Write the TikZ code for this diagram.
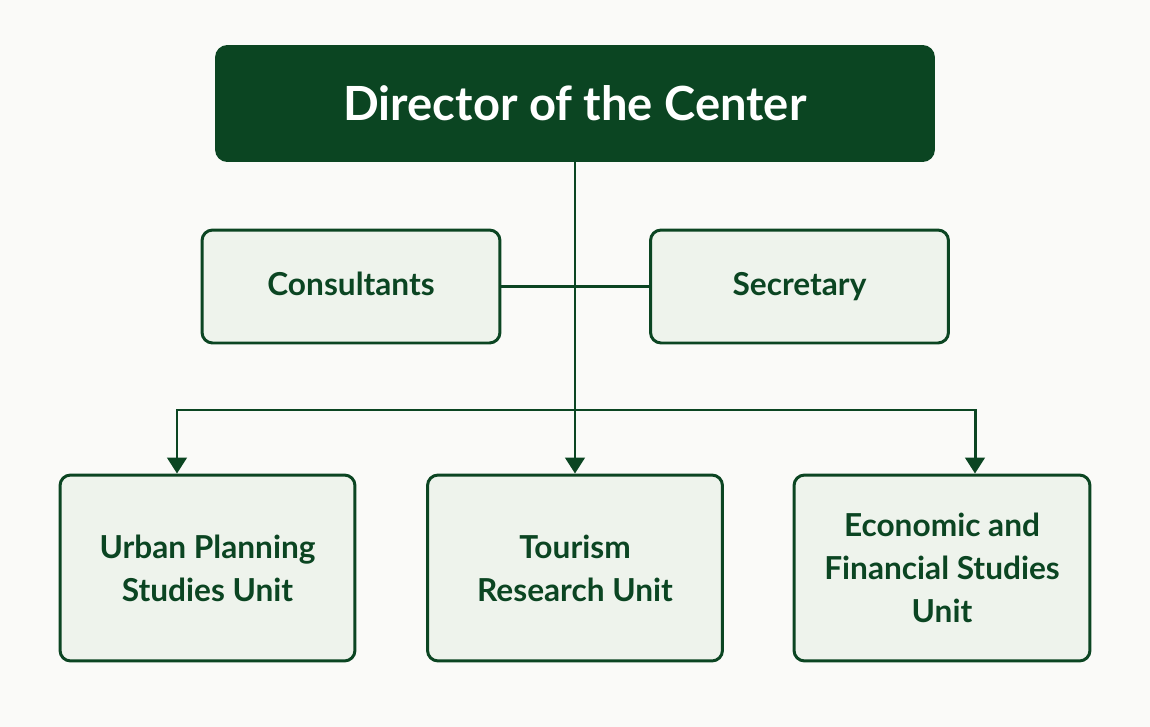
\documentclass[tikz,border=0pt]{standalone}
\usepackage{fontspec}
\setmainfont{Lato}
\usetikzlibrary{arrows.meta,positioning}
\definecolor{forest}{HTML}{0B4522}
\definecolor{pale}{HTML}{EEF3EC}
\definecolor{paper}{HTML}{FAFAF8}
\begin{document}
\begin{tikzpicture}[x=0.02cm,y=-0.02cm,font=\bfseries,
  unit/.style={draw=forest,line width=1.7pt,fill=pale,rounded corners=6pt,align=center,text=forest},
  small/.style={unit,minimum width=5.96cm,minimum height=2.26cm,text height=1.2em,text depth=0.2em,font=\bfseries\fontsize{18}{22}\selectfont},
  big/.style={unit,minimum width=5.9cm,minimum height=3.72cm,font=\bfseries\fontsize{18}{24.5}\selectfont},
  link/.style={forest,line width=1.7pt},
  arr/.style={link,-{Triangle[length=9pt,width=11pt]}}]
\fill[paper] (0,0) rectangle (1150,727);
\node[fill=forest,rounded corners=7pt,minimum width=14.4cm,minimum height=2.34cm,text=white,font=\bfseries\fontsize{26.8}{30}\selectfont] (dir) at (575,103.5) {Director of the Center};
\node[small] (cons) at (351,286.5) {Consultants};
\node[small] (sec) at (799.5,286.5) {Secretary};
\node[big] (urban) at (207.5,568) {Urban Planning\\Studies Unit};
\node[big] (tour) at (575,568) {Tourism\\Research Unit};
\node[big,minimum width=5.92cm] (econ) at (942,568) {Economic and\\Financial Studies\\Unit};
\coordinate (busl) at (177,410);
\coordinate (busr) at (975,410);
% links
\draw[link] (cons.east) -- (sec.west);
\draw[arr] (dir.south) -- (tour.north);
\draw[arr] (dir.south |- busl) -- (busl) -- (busl |- urban.north);
\draw[arr] (dir.south |- busr) -- (busr) -- (busr |- econ.north);
\end{tikzpicture}
\end{document}
